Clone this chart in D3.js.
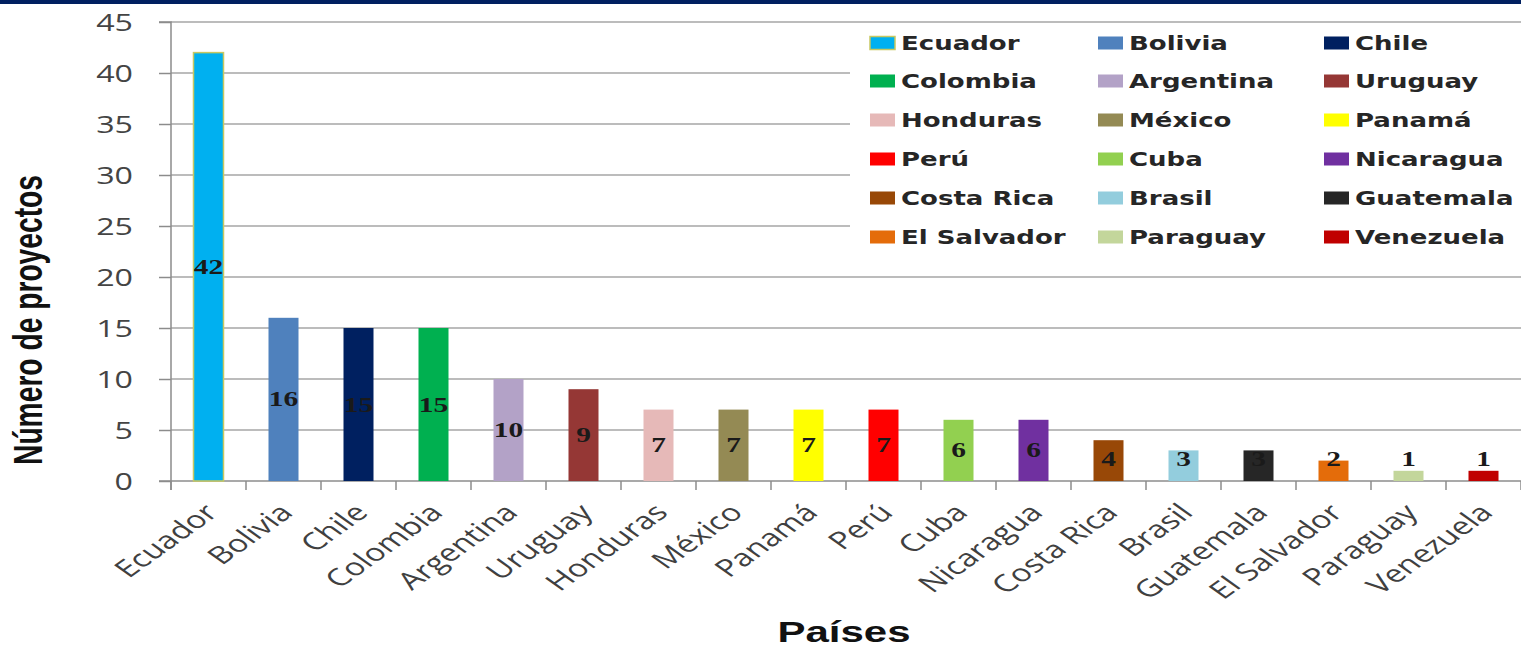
<!DOCTYPE html>
<html><head><meta charset="utf-8">
<script src="https://cdn.jsdelivr.net/npm/d3@7"></script>
<style>html,body{margin:0;padding:0;background:#fff;}svg{display:block;}</style>
</head><body>
<script>
const categories = ["Ecuador","Bolivia","Chile","Colombia","Argentina","Uruguay","Honduras","México","Panamá","Perú","Cuba","Nicaragua","Costa Rica","Brasil","Guatemala","El Salvador","Paraguay","Venezuela"];
const values = [42,16,15,15,10,9,7,7,7,7,6,6,4,3,3,2,1,1];
const colors = ["#00B0F0","#4F81BD","#002060","#00B050","#B3A2C7","#953735","#E6B9B8","#948A54","#FFFF00","#FF0000","#92D050","#7030A0","#984807","#93CDDD","#262626","#E46C0A","#C3D69B","#C00000"];
const yTicks = [0,5,10,15,20,25,30,35,40,45];
const yTitle = "Número de proyectos";
const xTitle = "Países";

const W = 1521, H = 647, SX = 1.4;
const svg = d3.select("body").append("svg").attr("width", W).attr("height", H);

svg.append("rect").attr("x",0).attr("y",0).attr("width",W).attr("height",4).attr("fill","#002060");

const x0 = 171, x1 = 1521, yTop = 22, yBot = 481;
const x = d3.scaleBand().domain(categories).range([x0, x1]).paddingInner(0.6).paddingOuter(0.3);
const y = d3.scaleLinear().domain([0,45]).range([yBot, yTop]);

// gridlines
svg.append("g").selectAll("line").data(yTicks.filter(d=>d>0)).join("line")
  .attr("x1", x0).attr("x2", x1).attr("y1", d=>y(d)).attr("y2", d=>y(d))
  .attr("stroke","#a6a6a6").attr("stroke-width",1.5);

// y axis
const ya = svg.append("g").attr("transform",`translate(${x0},0)`)
  .call(d3.axisLeft(y).tickValues(yTicks).tickSize(12).tickPadding(26));
ya.select(".domain").attr("stroke","#8c8c8c").attr("stroke-width",1.5).attr("d",`M-12,${yTop}H0V${yBot+9}`);
ya.selectAll(".tick line").attr("stroke","#8c8c8c").attr("stroke-width",1.5);
ya.selectAll(".tick text").attr("x",0).attr("dy","0.36em").attr("transform",`translate(-38,0) scale(${SX},1)`)
  .attr("font-family","'Open Sans', sans-serif").attr("font-size",23).attr("fill","#444");

// x axis
const boundaries = d3.range(categories.length+1).map(i => x0 + i*(x1-x0)/categories.length);
const xg = svg.append("g");
xg.append("line").attr("x1",x0-12).attr("x2",x1).attr("y1",yBot).attr("y2",yBot).attr("stroke","#8c8c8c").attr("stroke-width",1.5);
xg.selectAll("line.t").data(boundaries).join("line").attr("class","t")
  .attr("x1",d=>d).attr("x2",d=>d).attr("y1",yBot).attr("y2",yBot+9).attr("stroke","#8c8c8c").attr("stroke-width",1.5);
xg.selectAll("text").data(categories).join("text")
  .attr("transform", d=>`translate(${x(d)+x.bandwidth()/2+11},${yBot+33}) scale(${SX},1) rotate(-45)`)
  .attr("text-anchor","end").attr("font-family","'Open Sans', sans-serif").attr("font-size",24).attr("fill","#404040")
  .text(d=>d);

// bars
svg.append("g").selectAll("rect").data(categories).join("rect")
  .attr("x", d=>x(d)).attr("width", x.bandwidth())
  .attr("y", (d,i)=>y(values[i])).attr("height", (d,i)=>yBot - y(values[i]))
  .attr("fill", (d,i)=>colors[i])
  .attr("stroke", (d,i)=> i===0 ? "#c8c860" : "none").attr("stroke-width",1.5);

// value labels
svg.append("g").selectAll("text").data(categories).join("text")
  .attr("transform", (d,i)=>`translate(${x(d)+x.bandwidth()/2},${Math.min(y(values[i]/2), y(2.2)) + 7}) scale(${SX},1)`)
  .attr("text-anchor","middle").attr("font-family","'Liberation Serif', serif").attr("font-weight","bold").attr("font-size",21)
  .attr("fill","#1a1a1a").text((d,i)=>values[i]);

// legend
const lg = svg.append("g");
lg.append("rect").attr("x",850).attr("y",27).attr("width",W-850).attr("height",228).attr("fill","#fff");
const colX = [870, 1098, 1324];
const rowY = [43, 81, 120, 159, 198, 237];
categories.forEach((c,i)=>{
  const cx = colX[i%3], cy = rowY[Math.floor(i/3)];
  lg.append("rect").attr("x",cx).attr("y",cy-6.5).attr("width",25).attr("height",13).attr("fill",colors[i])
    .attr("stroke", i===0 ? "#c8c860" : "none").attr("stroke-width",1.5);
  lg.append("text").attr("transform",`translate(${cx+31},${cy+7}) scale(1.3,1)`).attr("font-family","'DejaVu Sans', sans-serif")
    .attr("font-weight","bold").attr("font-size",20).attr("fill","#262626").text(c);
});

// titles
svg.append("text").attr("transform",`translate(42,320) scale(${SX},1) rotate(-90)`).attr("text-anchor","middle")
  .attr("font-family","'Liberation Sans Narrow','Liberation Sans', sans-serif").attr("font-size",29).attr("font-weight","bold")
  .attr("textLength",290).attr("lengthAdjust","spacingAndGlyphs")
  .attr("fill","#111").text(yTitle);
svg.append("text").attr("x",844).attr("y",642).attr("text-anchor","middle")
  .attr("font-family","'Liberation Sans Narrow','Liberation Sans', sans-serif").attr("font-size",29).attr("font-weight","bold")
  .attr("textLength",133).attr("lengthAdjust","spacingAndGlyphs")
  .attr("fill","#111").text(xTitle);
</script>
</body></html>
